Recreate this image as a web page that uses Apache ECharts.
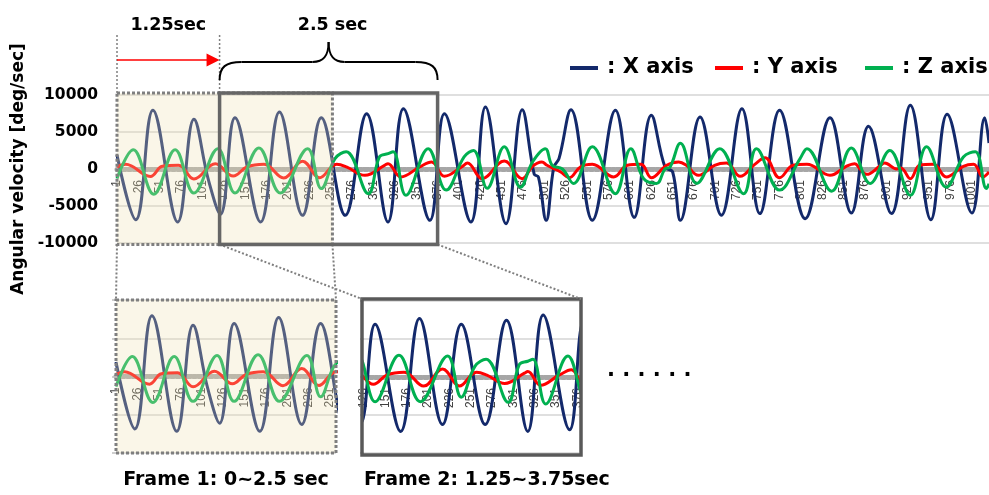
<!DOCTYPE html>
<html>
<head>
<meta charset="utf-8">
<title>Angular velocity frames</title>
<script src="https://cdn.jsdelivr.net/npm/echarts@6/dist/echarts.min.js"></script>
<style>
  html, body { margin: 0; padding: 0; background: #ffffff; }
  #chart { width: 989px; height: 495px; }
</style>
</head>
<body>
<div id="chart"></div>
<script>
// Gyroscope recording: 1021 samples, each trace listed at its turning points
const sampleCount = 1021;

const xAxisSamples = [1,23,43,72,91,108,122,139,169,191,218,240,268,293,318,336,367,384,415,432,456,475,489,494,503,512,518,532,557,584,606,626,642,651,660,683,708,732,753,776,806,835,860,880,907,929,953,972,1001,1016,1021];
const xAxisValues  = [1900,-6850,7930,-7160,6710,-1500,-6100,6930,-7160,7700,-6260,6930,-6260,7470,-7160,8150,-6940,7470,-7160,8380,-7390,8010,-700,-1100,-6940,270,1400,8010,-6940,7930,-6530,7250,270,-400,-6940,7030,-6260,8150,-6030,7930,-6710,6930,-5940,5770,-6030,8600,-6850,7390,-5940,6930,3500];

const yAxisSamples = [1,11,40,54,73,91,116,137,153,173,196,218,238,252,258,270,291,314,318,333,355,369,384,404,411,428,454,475,487,498,504,520,530,543,557,582,598,614,626,644,658,667,681,700,714,730,747,759,776,792,808,835,854,864,870,878,893,899,913,918,929,940,956,971,991,1003,1014,1021];
const yAxisValues  = [270,630,-1000,360,500,-1350,700,-950,270,630,-1200,1050,-1180,270,630,250,-850,500,720,-1080,270,950,-990,270,800,-1310,1080,-1310,360,950,500,-400,-1180,270,630,-1080,500,630,-1180,500,950,500,-850,500,810,-990,630,1530,-1180,500,630,-850,360,720,0,-720,360,810,0,150,-1310,500,630,-1080,360,630,-1080,-400];

const zAxisSamples = [1,20,44,69,91,119,139,167,192,224,240,256,269,295,308,318,324,339,365,386,407,418,434,454,473,487,502,510,522,535,557,584,602,617,632,642,648,660,679,706,734,749,776,800,808,837,860,882,905,929,948,971,991,1005,1018,1021];
const zAxisValues  = [-1300,2600,-3400,2600,-3250,2750,-3250,2850,-3250,2750,-2650,1400,2320,-3330,1630,2070,2320,-3560,2750,-2850,1630,2500,-2600,3000,-2450,950,2750,500,0,-1950,3000,-3330,2750,-1310,-1950,0,270,3470,-1950,2750,-3330,2750,-2850,1400,2750,-3000,2840,-1950,2500,-3560,3000,-2450,1630,2320,-2650,-2000];

// Sample windows of the two 2.5 s frames (frame 2 starts 1.25 s later)
const frame1Range = [1, 253];
const frame2Range = [121, 376];

// Samples shown in the enlarged frame panels
const panel1Range = [1, 258];
const panel2Range = [126, 378];

const traceNames = ['X axis', 'Y axis', 'Z axis'];
const yRange = { min: -10000, max: 10000, step: 5000 };
const labelEvery = 25;

const traceColors = ['#13296b', '#ff0000', '#00b050'];
const boldFont = 'DejaVu Sans';

const gridBoxes = [
  { left: 117, top: 95, width: 872, height: 148 },
  { left: 116, top: 300, width: 220, height: 153 },
  { left: 364, top: 301, width: 215, height: 152 }
];

const categories = Array.from({ length: sampleCount }, (_, i) => String(i + 1));
const toPairs = (samples, values) => samples.map((s, i) => [s - 1, values[i]]);
const traces = [
  toPairs(xAxisSamples, xAxisValues),
  toPairs(yAxisSamples, yAxisValues),
  toPairs(zAxisSamples, zAxisValues)
];

// the category axis runs along value 0, i.e. through the middle of the symmetric range
function categoryAxis(gridIndex, range) {
  return {
    type: 'category', gridIndex, data: categories, boundaryGap: false,
    min: range[0] - 1, max: range[1] - 1,
    position: 'bottom', offset: -gridBoxes[gridIndex].height / 2,
    axisLine: { onZero: false, lineStyle: { color: '#a6a6a6', width: 5, type: [3, 2.5] } },
    axisTick: { show: false },
    axisLabel: { interval: labelEvery - 1, rotate: 90, margin: 11, fontSize: 12,
                 color: '#404040', fontFamily: 'Liberation Sans' },
    splitLine: { show: false }
  };
}

function valueAxis(gridIndex, main) {
  const ax = {
    type: 'value', gridIndex, min: yRange.min, max: yRange.max, interval: yRange.step,
    axisLine: { show: false },
    axisTick: { show: !main, length: 4, lineStyle: { color: '#bfbfbf', width: 1.5 } },
    axisLabel: { show: main, margin: 19, fontFamily: boldFont, fontWeight: 'bold',
                 fontSize: 15.5, color: '#000', formatter: v => String(v) },
    splitLine: { lineStyle: { color: '#d4d4d4', width: 1.5 } }
  };
  if (main) {
    Object.assign(ax, {
      name: 'Angular velocity [deg/sec]', nameLocation: 'middle', nameRotate: 90, nameGap: 84,
      nameTextStyle: { fontFamily: boldFont, fontWeight: 'bold', fontSize: 17, color: '#000' }
    });
  }
  return ax;
}

const series = [];
[0, 1, 2].forEach(g => traces.forEach((data, k) => series.push({
  name: traceNames[k], type: 'line', xAxisIndex: g, yAxisIndex: g, data,
  smooth: 0.4, symbol: 'none', clip: true, silent: true,
  lineStyle: { color: traceColors[k], width: 3 },
  itemStyle: { color: traceColors[k] }
})));

const legendAt = [565, 710, 860];
const legend = traceNames.map((name, k) => ({
  data: [name], left: legendAt[k], top: 50, icon: 'rect', itemWidth: 28, itemHeight: 4,
  itemGap: 0, selectedMode: false, formatter: n => ': ' + n,
  textStyle: { fontFamily: boldFont, fontWeight: 'bold', fontSize: 21, color: '#000',
               lineHeight: 26, padding: [0, 0, 0, 4] }
}));

const option = {
  animation: false,
  backgroundColor: '#ffffff',
  textStyle: { fontFamily: boldFont },
  legend,
  grid: gridBoxes.map(b => Object.assign({ outerBoundsMode: 'none' }, b)),
  xAxis: [categoryAxis(0, [1, sampleCount]), categoryAxis(1, panel1Range), categoryAxis(2, panel2Range)],
  yAxis: [valueAxis(0, true), valueAxis(1, false), valueAxis(2, false)],
  series
};

const chart = echarts.init(document.getElementById('chart'));
chart.setOption(option);

// Frame outlines, zoom connectors and captions placed from the axis scales
const at = (g, sample, v) => chart.convertToPixel({ gridIndex: g }, [sample - 1, v]);
const topY = at(0, 1, yRange.max)[1] - 2;
const botY = at(0, 1, yRange.min)[1] + 1.5;
const f1L = at(0, frame1Range[0], 0)[0], f1R = at(0, frame1Range[1], 0)[0];
const f2L = at(0, frame2Range[0], 0)[0], f2R = at(0, frame2Range[1], 0)[0];
const p1a = at(1, panel1Range[0], yRange.max), p1b = at(1, panel1Range[1], yRange.min);
const p2a = at(2, panel2Range[0], yRange.max), p2b = at(2, panel2Range[1], yRange.min);

const shade = 'rgba(238,224,180,0.3)';
const dottedBorder = { stroke: '#7f7f7f', lineWidth: 3, lineDash: [3, 2] };
const thinDots = { stroke: '#7f7f7f', lineWidth: 1.5, lineDash: [2, 2], fill: 'none' };
const G = [];
const add = el => G.push(Object.assign({ silent: true, z: 100 }, el));

// frame 1 (shaded) and frame 2 (solid outline)
add({ type: 'rect', shape: { x: f1L, y: topY, width: f1R - f1L, height: botY - topY },
      style: Object.assign({ fill: shade }, dottedBorder) });
add({ type: 'rect', z: 101, shape: { x: f2L, y: topY, width: f2R - f2L, height: botY - topY },
      style: { fill: 'none', stroke: '#666666', lineWidth: 3.5 } });

// panels
const p2pad = 2;
add({ type: 'rect', shape: { x: p1a[0], y: p1a[1], width: p1b[0] - p1a[0], height: p1b[1] - p1a[1] },
      style: Object.assign({ fill: shade }, dottedBorder) });
add({ type: 'rect', shape: { x: p2a[0] - p2pad, y: p2a[1] - p2pad,
      width: p2b[0] - p2a[0] + 2 * p2pad, height: p2b[1] - p2a[1] + 2 * p2pad },
      style: { fill: 'none', stroke: '#595959', lineWidth: 3.5 } });

// connectors from each frame to its panel
const seg = (x1, y1, x2, y2) => add({ type: 'line', shape: { x1, y1, x2, y2 }, style: Object.assign({}, thinDots, { lineWidth: 2 }) });
seg(f1L, botY, p1a[0], p1a[1]);
seg(f1R, botY, p1b[0], p1a[1]);
seg(f2L, botY, p2a[0] - p2pad, p2a[1] - p2pad);
seg(f2R, botY, p2b[0] + p2pad, p2a[1] - p2pad);

// 1.25 s shift marker
const guideTop = 35, arrowY = 60;
add({ type: 'line', shape: { x1: f1L, y1: guideTop, x2: f1L, y2: topY }, style: thinDots });
add({ type: 'line', shape: { x1: f2L, y1: guideTop, x2: f2L, y2: topY }, style: thinDots });
add({ type: 'line', shape: { x1: f1L, y1: arrowY, x2: f2L - 12, y2: arrowY }, style: { stroke: '#ff0000', lineWidth: 1.5 } });
add({ type: 'polygon', shape: { points: [[f2L - 13, arrowY - 6.5], [f2L, arrowY], [f2L - 13, arrowY + 6.5]] }, style: { fill: '#ff0000' } });

// curly brace over frame 2
const bm = (f2L + f2R) / 2, yEnd = 80, yMid = 62, yTip = 42;
const braceStyle = { stroke: '#000', lineWidth: 2, fill: 'none' };
const curve = (x1, y1, cpx1, cpy1, cpx2, cpy2, x2, y2) =>
  add({ type: 'bezierCurve', shape: { x1, y1, cpx1, cpy1, cpx2, cpy2, x2, y2 }, style: braceStyle });
curve(f2L, yEnd, f2L, yMid + 5, f2L + 6, yMid, f2L + 22, yMid);
add({ type: 'line', shape: { x1: f2L + 22, y1: yMid, x2: bm - 16, y2: yMid }, style: braceStyle });
curve(bm - 16, yMid, bm - 5, yMid, bm, yMid - 6, bm, yTip);
curve(bm, yTip, bm, yMid - 6, bm + 5, yMid, bm + 16, yMid);
add({ type: 'line', shape: { x1: bm + 16, y1: yMid, x2: f2R - 22, y2: yMid }, style: braceStyle });
curve(f2R - 22, yMid, f2R - 6, yMid, f2R, yMid + 5, f2R, yEnd);

// captions
const caption = (text, x, y, size, align) => add({ type: 'text', x, y,
  style: { text, fill: '#000', fontFamily: boldFont, fontWeight: 'bold', fontSize: size,
           align: align || 'center', verticalAlign: 'middle' } });
caption('1.25sec', (f1L + f2L) / 2, 25, 17.5);
caption('2.5 sec', bm + 4, 25, 17.5);
caption('Frame 1: 0~2.5 sec', (p1a[0] + p1b[0]) / 2, 480, 19);
caption('Frame 2: 1.25~3.75sec', p2a[0], 480, 19, 'left');
caption('. . . . . .', p2b[0] + 28, (p2a[1] + p2b[1]) / 2 - 6, 21, 'left');

chart.setOption({ graphic: { elements: G } });
</script>
</body>
</html>
